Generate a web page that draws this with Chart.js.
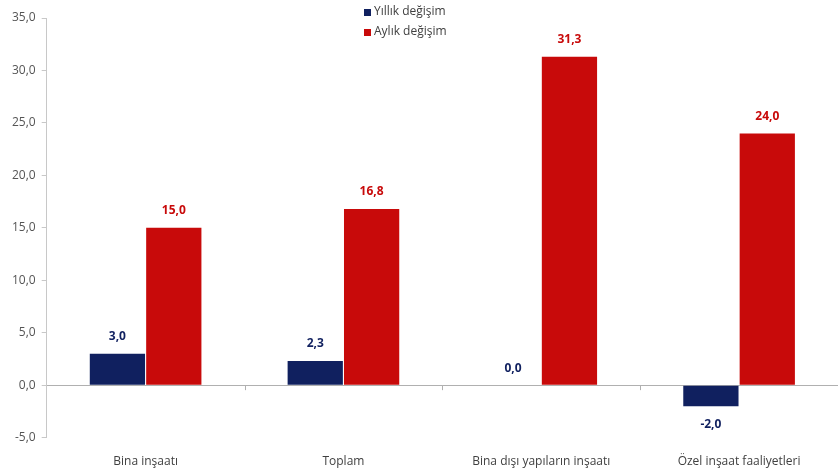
<!DOCTYPE html>
<html>
<head>
<meta charset="utf-8">
<script src="https://cdn.jsdelivr.net/npm/chart.js@4"></script>
<style>
  html, body { margin: 0; padding: 0; background: #fff; }
  #wrap { width: 840px; height: 476px; }
</style>
</head>
<body>
<div id="wrap"><canvas id="chart"></canvas></div>
<script>
const categories = ['Bina inşaatı', 'Toplam', 'Bina dışı yapıların inşaatı', 'Özel inşaat faaliyetleri'];
const yillik = [3.0, 2.3, 0.0, -2.0];
const aylik = [15.0, 16.8, 31.3, 24.0];
const seriesNames = ['Yıllık değişim', 'Aylık değişim'];
const seriesColors = ['#10205f', '#c80a0a'];

const fmt = v => v.toFixed(1).replace('.', ',');
const font = "'Open Sans', 'Liberation Sans', sans-serif";

// value labels above / below bars, zero line ticks and the legend
const extras = {
    id: 'extras',
    afterDatasetsDraw(chart) {
        const ctx = chart.ctx;
        const x = chart.scales.x;
        const y = chart.scales.y;
        const zero = y.getPixelForValue(0);

        ctx.save();
        ctx.strokeStyle = '#b0b0b0';
        ctx.lineWidth = 1;
        for (let i = 1; i < categories.length; i++) {
            const px = Math.round(x.getPixelForValue(i - 0.5)) + 0.5;
            ctx.beginPath();
            ctx.moveTo(px, zero);
            ctx.lineTo(px, zero + 5);
            ctx.stroke();
        }

        ctx.font = 'bold 12px ' + font;
        ctx.textAlign = 'center';
        chart.data.datasets.forEach((ds, di) => {
            const meta = chart.getDatasetMeta(di);
            meta.data.forEach((bar, i) => {
                const v = ds.data[i];
                ctx.fillStyle = seriesColors[di];
                if (v < 0) {
                    ctx.textBaseline = 'top';
                    ctx.fillText(fmt(v), bar.x, bar.y + 12);
                } else {
                    ctx.textBaseline = 'bottom';
                    ctx.fillText(fmt(v), bar.x, bar.y - 11);
                }
            });
        });

        ctx.font = '12px ' + font;
        ctx.textAlign = 'left';
        ctx.textBaseline = 'middle';
        seriesNames.forEach((name, i) => {
            const ly = 12 + i * 20;
            ctx.fillStyle = seriesColors[i];
            ctx.fillRect(364, ly - 3, 7, 7);
            ctx.fillStyle = '#404040';
            ctx.fillText(name, 374, ly);
        });
        ctx.restore();
    }
};

new Chart(document.getElementById('chart'), {
    type: 'bar',
    data: {
        labels: categories,
        datasets: [
            { label: seriesNames[0], data: yillik, backgroundColor: seriesColors[0] },
            { label: seriesNames[1], data: aylik, backgroundColor: seriesColors[1] }
        ]
    },
    options: {
        responsive: true,
        maintainAspectRatio: false,
        animation: false,
        layout: { padding: { top: 18, right: 2, left: 6, bottom: -10 } },
        datasets: { bar: { categoryPercentage: 0.57, barPercentage: 0.98 } },
        plugins: {
            legend: { display: false },
            tooltip: { enabled: false }
        },
        scales: {
            x: {
                grid: { display: false, drawTicks: false },
                border: { display: false },
                ticks: { color: '#404040', font: { family: font, size: 12 }, padding: 17, maxRotation: 0 }
            },
            y: {
                min: -5,
                max: 35,
                ticks: {
                    stepSize: 5,
                    color: '#555',
                    font: { family: font, size: 12 },
                    padding: 6,
                    callback: v => fmt(v)
                },
                grid: {
                    drawOnChartArea: true,
                    tickLength: 5,
                    color: ctx => ctx.tick && ctx.tick.value === 0 ? '#b0b0b0' : 'rgba(0,0,0,0)',
                    tickColor: '#c8c8c8'
                },
                border: { color: '#c8c8c8' }
            }
        }
    },
    plugins: [extras]
});
</script>
</body>
</html>
